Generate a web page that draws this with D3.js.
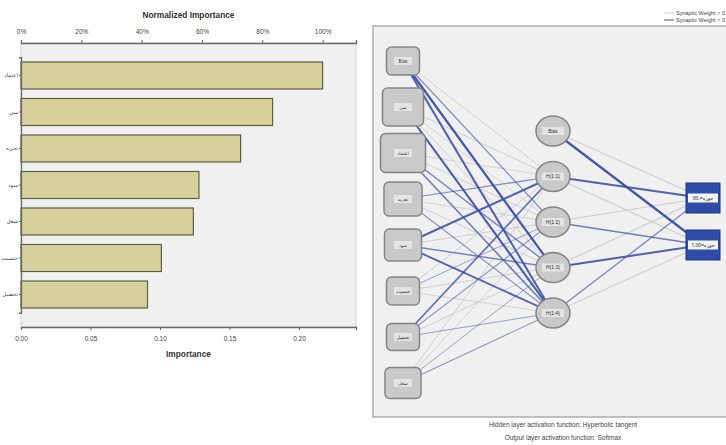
<!DOCTYPE html>
<html>
<head>
<meta charset="utf-8">
<script src="https://cdn.jsdelivr.net/npm/d3@7"></script>
<style>
  html, body { margin: 0; padding: 0; background: #ffffff; }
  svg { display: block; font-family: "Liberation Sans Narrow", "Liberation Sans", Arial, sans-serif; }
</style>
</head>
<body>
<svg id="chart" width="726" height="445"></svg>
<script>
// ---- Independent variable importance ----
const predictors = ["اعتماد", "سن", "تجربه", "سود", "شغل", "جنسیت", "تحصیل"];
const importance = [0.217, 0.181, 0.158, 0.128, 0.124, 0.101, 0.091];
const importanceTicks = [0, 0.05, 0.10, 0.15, 0.20];
const normalizedTicks = [0, 0.2, 0.4, 0.6, 0.8, 1.0];

// ---- Network diagram ----
const inputNodes = ["Bias", "سن", "اعتماد", "تجربه", "سود", "جنسیت", "تحصیل", "شغل"];
const hiddenNodes = ["Bias", "H(1:1)", "H(1:2)", "H(1:3)", "H(1:4)"];
const outputNodes = ["حوزه=.00", "حوزه=1.00"];
// rows: input nodes, columns: H(1:1)..H(1:4)
const inputWeights = [
  [ 0.25, -0.45, -0.95, -0.85],
  [ 0.30,  0.20,  0.25, -0.90],
  [ 0.20,  0.30, -0.55, -0.60],
  [-0.45,  0.25,  0.30, -0.40],
  [-0.85,  0.30, -0.55, -0.80],
  [ 0.30, -0.30,  0.25,  0.20],
  [-0.70, -0.35,  0.30, -0.30],
  [ 0.25,  0.20, -0.30, -0.35]
];
// rows: hidden nodes (Bias, H1..H4), columns: outputs
const hiddenWeights = [
  [ 0.35, -0.95],
  [-0.85,  0.35],
  [ 0.40, -0.60],
  [ 0.40, -0.85],
  [-0.50,  0.35]
];
const legendLabels = ["Synaptic Weight > 0", "Synaptic Weight < 0"];
const footnotes = ["Hidden layer activation function: Hyperbolic tangent",
                   "Output layer activation function: Softmax"];

const svg = d3.select("#chart");

// ================= Importance bar chart =================
const plotL = 21, plotR = 356, plotT = 43, plotB = 327;
const maxImp = d3.max(importance);
const x = d3.scaleLinear().domain([0, 0.241]).range([plotL, plotR]);
const xNorm = d3.scaleLinear().domain([0, 0.241 / maxImp]).range([plotL, plotR]);
const y = d3.scaleBand().domain(predictors).range([57.25, 312.75])
  .paddingInner(0.26).paddingOuter(0.13);

const g1 = svg.append("g");
g1.append("rect").attr("x", plotL).attr("y", plotT)
  .attr("width", plotR - plotL).attr("height", plotB - plotT)
  .attr("fill", "#f0f0f0").attr("stroke", "#c8c8c8").attr("stroke-width", 0.8);

g1.selectAll("rect.bar").data(predictors).join("rect")
  .attr("class", "bar")
  .attr("x", x(0))
  .attr("y", d => y(d))
  .attr("width", (d, i) => x(importance[i]) - x(0))
  .attr("height", y.bandwidth())
  .attr("fill", "#d6d19c")
  .attr("stroke", "#5f5f42")
  .attr("stroke-width", 1.2);

const styleAxis = sel => {
  sel.select(".domain").attr("stroke", "#6a6a6a").attr("stroke-width", 1.3);
  sel.selectAll(".tick line").attr("stroke", "#6a6a6a");
  sel.selectAll(".tick text").attr("fill", "#444").attr("font-size", 6.5);
};

g1.append("g").attr("transform", `translate(0,${plotB})`)
  .call(d3.axisBottom(x).tickValues(importanceTicks).tickFormat(d3.format(".2f")).tickSizeOuter(0).tickSize(3).tickPadding(6))
  .call(styleAxis);

g1.append("g").attr("transform", `translate(0,${plotT})`)
  .call(d3.axisTop(xNorm).tickValues(normalizedTicks).tickFormat(d3.format(".0%")).tickSizeOuter(0).tickSize(3).tickPadding(6))
  .call(styleAxis);

g1.append("g").attr("transform", `translate(${plotL},0)`)
  .call(d3.axisLeft(y).tickSizeOuter(0).tickSize(2).tickPadding(1))
  .call(styleAxis)
  .call(s => s.selectAll(".tick text").attr("font-size", 5.5).attr("font-family", "Noto Sans, DejaVu Sans, sans-serif"));

g1.append("text").attr("x", (plotL + plotR) / 2).attr("y", 18)
  .attr("text-anchor", "middle").attr("font-size", 9.5).attr("font-weight", "bold")
  .attr("fill", "#333").attr("textLength", 92).attr("lengthAdjust", "spacingAndGlyphs")
  .text("Normalized Importance");
g1.append("text").attr("x", (plotL + plotR) / 2).attr("y", 357)
  .attr("text-anchor", "middle").attr("font-size", 9.5).attr("font-weight", "bold")
  .attr("fill", "#333").attr("textLength", 45).attr("lengthAdjust", "spacingAndGlyphs")
  .text("Importance");

// ================= Network diagram =================
const g2 = svg.append("g");
g2.append("rect").attr("x", 373).attr("y", 26).attr("width", 360).attr("height", 391)
  .attr("fill", "#f0f0f0").attr("stroke", "#9a9a9a").attr("stroke-width", 1.2);

const colX = { input: 403, hidden: 553, output: 703 };
const yIn = d3.scalePoint().domain(d3.range(inputNodes.length)).range([61, 383]);
const yHid = d3.scalePoint().domain(d3.range(hiddenNodes.length)).range([131, 313]);
const yOut = d3.scalePoint().domain(d3.range(outputNodes.length)).range([198, 245]);

const widthScale = d3.scaleLinear().domain([0, 1]).range([0.4, 2.3]);
const edgeColor = w => w > 0 ? "#c9c9c9" : "#3b50a8";
const edgeOpacity = w => w > 0 ? 0.9 : d3.scaleLinear().domain([0, 1]).range([0.3, 1])(Math.abs(w));

const edges = [];
inputWeights.forEach((row, i) => row.forEach((w, j) => edges.push({
  x1: colX.input, y1: yIn(i), x2: colX.hidden, y2: yHid(j + 1), w })));
hiddenWeights.forEach((row, i) => row.forEach((w, j) => edges.push({
  x1: colX.hidden, y1: yHid(i), x2: colX.output, y2: yOut(j), w })));
edges.sort((a, b) => (b.w > 0) - (a.w > 0) || Math.abs(a.w) - Math.abs(b.w));

g2.selectAll("line.edge").data(edges).join("line")
  .attr("class", "edge")
  .attr("x1", d => d.x1).attr("y1", d => d.y1)
  .attr("x2", d => d.x2).attr("y2", d => d.y2)
  .attr("stroke", d => edgeColor(d.w))
  .attr("stroke-opacity", d => edgeOpacity(d.w))
  .attr("stroke-width", d => widthScale(Math.abs(d.w)));

// input node box sizes [w, h]
const inputBox = [[33, 28], [41, 38], [45, 39], [38, 34], [37, 32], [33, 28], [33, 27], [36, 31]];
const inG = g2.selectAll("g.in").data(inputNodes).join("g").attr("class", "in")
  .attr("transform", (d, i) => `translate(${colX.input},${yIn(i)})`);
inG.append("rect")
  .attr("x", (d, i) => -inputBox[i][0] / 2).attr("y", (d, i) => -inputBox[i][1] / 2)
  .attr("width", (d, i) => inputBox[i][0]).attr("height", (d, i) => inputBox[i][1])
  .attr("rx", 5).attr("fill", "#c9c9c9").attr("stroke", "#858585").attr("stroke-width", 1.5);
inG.append("rect").attr("x", -9).attr("y", -4).attr("width", 18).attr("height", 8)
  .attr("fill", "#e4e4e4");
inG.append("text").attr("text-anchor", "middle").attr("dy", "0.35em")
  .attr("font-size", 4.5).attr("fill", "#333")
  .attr("font-family", "Noto Sans, DejaVu Sans, sans-serif").text(d => d);

const hidG = g2.selectAll("g.hid").data(hiddenNodes).join("g").attr("class", "hid")
  .attr("transform", (d, i) => `translate(${colX.hidden},${yHid(i)})`);
hidG.append("ellipse").attr("rx", 17).attr("ry", 15)
  .attr("fill", "#c9c9c9").attr("stroke", "#858585").attr("stroke-width", 1.5);
hidG.append("rect").attr("x", -11).attr("y", -4).attr("width", 22).attr("height", 8)
  .attr("fill", "#e4e4e4");
hidG.append("text").attr("text-anchor", "middle").attr("dy", "0.35em")
  .attr("font-size", 5).attr("fill", "#333").text(d => d);

const outG = g2.selectAll("g.out").data(outputNodes).join("g").attr("class", "out")
  .attr("transform", (d, i) => `translate(${colX.output},${yOut(i)})`);
outG.append("rect").attr("x", -17).attr("y", -15).attr("width", 34).attr("height", 30)
  .attr("fill", "#2f4ca6").attr("stroke", "#1f3585").attr("stroke-width", 1);
outG.append("rect").attr("x", -15).attr("y", -4.5).attr("width", 30).attr("height", 9)
  .attr("fill", "#f4f4f4");
outG.append("text").attr("text-anchor", "middle").attr("dy", "0.35em")
  .attr("font-size", 5).attr("fill", "#222")
  .attr("font-family", "Noto Sans, DejaVu Sans, sans-serif").text(d => d);

// legend
const leg = svg.append("g").attr("transform", "translate(664,13)");
legendLabels.forEach((t, i) => {
  leg.append("line").attr("x1", 0).attr("x2", 10).attr("y1", i * 7).attr("y2", i * 7)
    .attr("stroke", i === 0 ? "#c6c6c6" : "#3b50a8").attr("stroke-width", 1);
  leg.append("text").attr("x", 12).attr("y", i * 7).attr("dy", "0.35em")
    .attr("font-size", 5.5).attr("fill", "#444").text(t);
});

// footnotes
footnotes.forEach((t, i) => {
  svg.append("text").attr("x", 563).attr("y", 427 + i * 13)
    .attr("text-anchor", "middle").attr("font-size", 6.5).attr("fill", "#444").text(t);
});
</script>
</body>
</html>
